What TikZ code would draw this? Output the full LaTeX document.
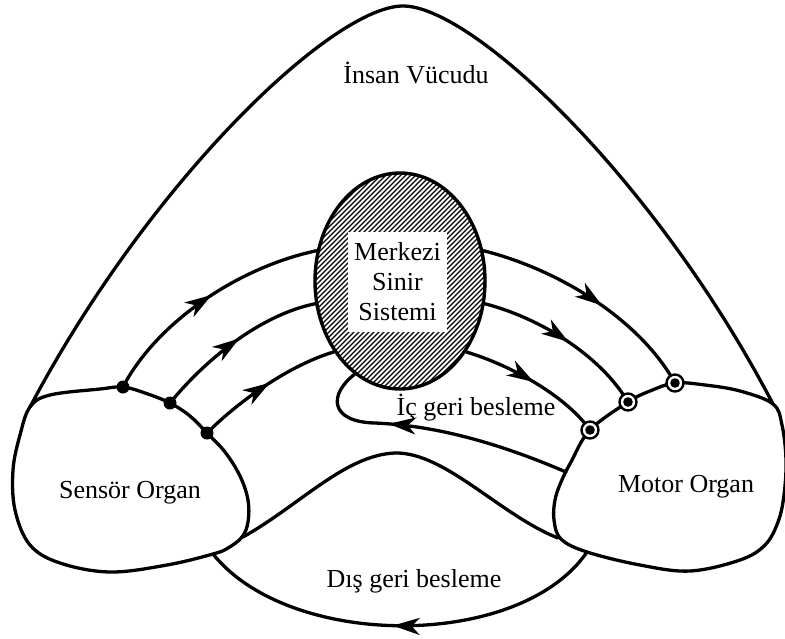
\documentclass[tikz,border=0pt]{standalone}
\usepackage{fontspec}
\setmainfont{Liberation Serif}
\usetikzlibrary{arrows.meta,decorations.markings,shapes.geometric}
\begin{document}
\begin{tikzpicture}[x=1pt,y=-1pt,
  outline/.style={line width=3.3pt, line join=round, line cap=round},
  nerve/.style={line width=3.3pt, line cap=round, postaction={decorate},
    decoration={markings, mark=at position #1 with {\arrow{Stealth[length=27pt,width=17pt,inset=8pt]}}}},
  nerve/.default=0.53,
  lbl/.style={font=\fontsize{26}{30}\selectfont, inner sep=0pt},
  hatchline/.style={line width=1.3pt, black},
  sdot/.style={fill=black},
  mring/.style={draw=black, fill=white, line width=2.4pt},
]
% canvas
\fill[white] (0,0) rectangle (785,638);
\useasboundingbox (0,0) rectangle (785,638);

% body outline
\draw[outline] (30,407) .. controls (150,180) and (333,6) .. (403,6)
                .. controls (473,6) and (656,180) .. (773,404);

% sensor organ
\draw[outline] plot[smooth cycle, tension=0.6] coordinates {
  (30,407) (50,395) (100,389) (123,387) (145,393) (170,403) (190,416)
  (207,433) (225,452) (240,476) (248,500) (248,522) (242,537) (228,548)
  (213,554) (167,565) (110,572) (60,563) (30,545) (15,510) (13,470) (20,435)};

% motor organ
\draw[outline] plot[smooth cycle, tension=0.6] coordinates {
  (590,430) (628,402) (650,391) (675,383) (705,385) (740,391)
  (773,404) (782,425) (786,460) (784,495) (778,522) (765,545) (740,560)
  (690,571) (640,565) (587,552) (561,539) (554,520) (555,500) (561,482)
  (571,462)};

% attachment points
\coordinate (s1) at (123,387);
\coordinate (s2) at (170,403);
\coordinate (s3) at (207,433);
\coordinate (s4) at (213,554);
\coordinate (s5) at (243,537);
\coordinate (m1) at (675,383);
\coordinate (m2) at (628,402);
\coordinate (m3) at (590,430);
\coordinate (m4) at (566,472);
\coordinate (m5) at (587,552);
\coordinate (m6) at (558,538);

% central nervous system
\node[draw, ellipse, minimum width=170pt, minimum height=216pt, inner sep=0pt,
      line width=3.4pt, fill=white,
      path picture={
        \begin{scope}[shift={(path picture bounding box.center)}]
          \foreach \k in {-260,-255,...,260}
            \draw[hatchline] (\k-130,130) -- (\k+130,-130);
        \end{scope}}] (cns) at (400,281) {};
\node[lbl, fill=white, align=center, minimum width=99pt, minimum height=100pt]
  (cnstext) at (397.5,282) {Merkezi\\Sinir\\Sistemi};

% afferent pathways
\draw[nerve] (s1) .. controls (155,325) and (235,268) .. (cns.160);
\draw[nerve] (s2) .. controls (205,360) and (260,315) .. (cns.195);
\draw[nerve] (s3) .. controls (240,400) and (290,365) .. (cns.227);

% efferent pathways
\draw[nerve=0.55] (cns.20) .. controls (560,270) and (640,320) .. (m1);
\draw[nerve=0.52] (cns.-15) .. controls (540,318) and (600,355) .. (m2);
\draw[nerve=0.5] (cns.-47) .. controls (510,365) and (565,395) .. (m3);

% internal feedback
\draw[nerve=0.66] (m4) .. controls (480,435) and (420,425) .. (375,423)
                  .. controls (330,422) and (328,395) .. (cns.244);

% external feedback
\draw[outline] (s5) .. controls (300,505) and (345,455) .. (395,453)
               .. controls (445,452) and (500,515) .. (m6);
\draw[nerve=0.52] (m5) .. controls (520,650) and (290,650) .. (s4);

% terminals
\foreach \p in {s1,s2,s3} \fill[sdot] (\p) circle (6.5);
\foreach \p in {m1,m2,m3} {
  \draw[mring] (\p) circle (8.5);
  \fill[sdot] (\p) circle (4.8);
}

% labels
\node[lbl, anchor=base] (body) at (416,83) {İnsan Vücudu};
\node[lbl, anchor=base] (inner) at (476,415) {İç geri besleme};
\node[lbl, anchor=base] (outer) at (414,587) {Dış geri besleme};
\node[lbl, anchor=base] (sensor) at (130,498) {Sensör Organ};
\node[lbl, anchor=base] (motor) at (686,492) {Motor Organ};
\end{tikzpicture}
\end{document}
